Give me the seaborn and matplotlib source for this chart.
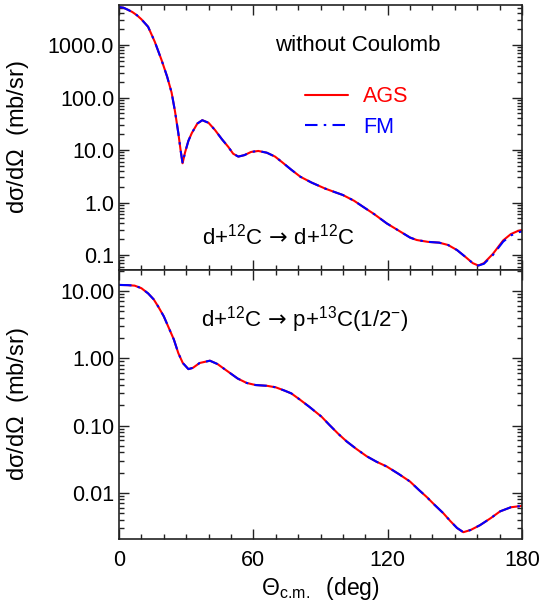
import numpy as np
import pandas as pd
import matplotlib
matplotlib.use("Agg")
import matplotlib.pyplot as plt
import seaborn as sns
from matplotlib.ticker import FixedLocator, FuncFormatter, LogLocator, MultipleLocator, NullFormatter

# ---------------- data ----------------
top_theta = [0, 2, 4, 6, 8, 10, 13, 16, 19, 21.5, 23.5, 25, 26.5, 27.5, 28.4, 29.5, 31, 32.5, 35,
             37.2, 40, 42.9, 46, 48.8, 51, 53.3, 56, 59, 62.2, 66, 69.7, 73, 77, 81, 86,
             92, 96, 100, 105, 109, 114, 119.6, 125, 130, 133, 138, 143, 147, 151, 155,
             158, 160.5, 163, 167, 171.6, 175, 178, 180]
top_ags = [5300, 5150, 4700, 4250, 3700, 3100, 2230, 1150, 520, 250, 124, 55, 21, 10, 5.6, 9, 15, 21, 32,
           37, 33, 24, 16, 11.5, 8.5, 7.5, 8, 9.2, 9.6, 8.9, 7.5, 5.8, 4.2, 3.1, 2.4,
           1.85, 1.6, 1.39, 1.08, 0.83, 0.6, 0.40, 0.29, 0.215, 0.193, 0.178, 0.172, 0.155,
           0.124, 0.09, 0.07, 0.063, 0.07, 0.105, 0.19, 0.25, 0.285, 0.30]
top_fm = [5300, 5150, 4700, 4250, 3700, 3100, 2230, 1150, 520, 250, 124, 55, 21, 10, 5.6, 9, 15, 21, 32,
          37, 33, 24, 16, 11.5, 8.5, 7.5, 8, 9.2, 9.6, 8.9, 7.5, 5.8, 4.2, 3.1, 2.4,
          1.85, 1.6, 1.39, 1.08, 0.83, 0.6, 0.40, 0.29, 0.215, 0.193, 0.178, 0.172, 0.155,
          0.124, 0.09, 0.07, 0.063, 0.068, 0.10, 0.18, 0.235, 0.27, 0.28]

bot_theta = [0, 4, 7, 10, 13, 15.5, 17.6, 20, 22, 24.5, 26.5, 28.5, 31, 33, 36, 40.6, 44,
             48.8, 53, 57, 61, 66, 70, 74, 77, 81, 85, 90.5, 94, 98, 101.7, 106, 110.6,
             115, 119.6, 125, 130, 134, 137.4, 141, 144.8, 148, 151, 153.8, 157, 161.2,
             166, 170.2, 175, 180]
bot_ags = [12.3, 12.2, 12.0, 11, 9.2, 7.5, 5.8, 4.2, 2.95, 1.9, 1.19, 0.85, 0.69, 0.72,
           0.85, 0.92, 0.82, 0.63, 0.50, 0.43, 0.40, 0.39, 0.37, 0.33, 0.30, 0.24, 0.19,
           0.135, 0.102, 0.075, 0.058, 0.045, 0.035, 0.029, 0.0246, 0.019, 0.0147, 0.011,
           0.0087, 0.0066, 0.0050, 0.0038, 0.0030, 0.0026, 0.0028, 0.0033, 0.0042, 0.0053,
           0.0061, 0.0064]
bot_fm = list(bot_ags)

x_ticks = [0, 60, 120, 180]
top_yticks = [0.1, 1.0, 10.0, 100.0, 1000.0]
bot_yticks = [0.01, 0.10, 1.00, 10.00]

# ---------------- style ----------------
sns.set_style("ticks")
plt.rcParams["font.family"] = ["Liberation Sans", "DejaVu Sans"]
plt.rcParams["mathtext.fontset"] = "custom"
plt.rcParams["mathtext.rm"] = "Liberation Sans"
plt.rcParams["mathtext.it"] = "Liberation Sans:italic"
plt.rcParams["mathtext.sf"] = "DejaVu Sans"
plt.rcParams["mathtext.fallback"] = "stixsans"
for k in ("text.color", "axes.labelcolor", "xtick.color", "ytick.color"):
    plt.rcParams[k] = "black"
FS = 15.5

fig = plt.figure(figsize=(5.47, 6.10), dpi=100)
L, R = 119 / 547, 522 / 547
ax1 = fig.add_axes([L, 1 - 270 / 610, R - L, 265 / 610])
ax2 = fig.add_axes([L, 1 - 539 / 610, R - L, 269 / 610])

def draw(ax, th, ags, fm):
    df = pd.DataFrame({"theta": th + th, "val": ags + fm,
                       "model": ["AGS"] * len(th) + ["FM"] * len(th)})
    sns.lineplot(data=df[df.model == "AGS"], x="theta", y="val", ax=ax, color="#ff0000",
                 lw=1.5, label="AGS", estimator=None, sort=False)
    sns.lineplot(data=df[df.model == "FM"], x="theta", y="val", ax=ax, color="#0000ff",
                 lw=1.5, label="FM", estimator=None, sort=False, dashes=False)
    ax.lines[-1].set_linestyle((0, (6, 3, 1.2, 3)))

draw(ax1, top_theta, top_ags, top_fm)
draw(ax2, bot_theta, bot_ags, bot_fm)

for ax in (ax1, ax2):
    ax.set_yscale("log")
    ax.set_xlim(0, 180)
    ax.xaxis.set_major_locator(FixedLocator(x_ticks))
    ax.xaxis.set_minor_locator(MultipleLocator(10))
    ax.yaxis.set_minor_locator(LogLocator(base=10, subs=np.arange(2, 10)))
    ax.yaxis.set_minor_formatter(NullFormatter())
    ax.tick_params(which="both", direction="in", top=True, right=True, labelsize=FS,
                   width=1.0, color="#222222", labelcolor="black")
    ax.tick_params(which="major", length=7)
    ax.tick_params(which="minor", length=3.5)
    for s in ax.spines.values():
        s.set_linewidth(1.2)
        s.set_color("#222222")
    ax.set_xlabel("")

ax1.set_ylim(0.0518, 5800)
ax2.set_ylim(0.00206, 20.5)
ax1.yaxis.set_major_locator(FixedLocator(top_yticks))
ax1.yaxis.set_major_formatter(FuncFormatter(lambda v, p: f"{v:.1f}"))
ax2.yaxis.set_major_locator(FixedLocator(bot_yticks))
ax2.yaxis.set_major_formatter(FuncFormatter(lambda v, p: f"{v:.2f}"))
ax1.tick_params(labelbottom=False)
ax2.tick_params(axis="x", pad=8)

ylab = r"d$\mathrm{\sigma}$/d$\mathrm{\Omega}$  (mb/sr)"
for ax in (ax1, ax2):
    ax.set_ylabel(ylab, fontsize=17, color="black")
    ax.yaxis.set_label_coords(-0.218, 0.5)
ax2.set_xlabel(r"$\mathrm{\Theta}_{\mathrm{c.\!m.}}$  (deg)", fontsize=16.5, labelpad=3,
               color="black")

# legend
leg = ax1.legend(loc="center left", bbox_to_anchor=(0.4615, 0.596), frameon=False,
                 fontsize=FS, handlelength=2.0, handletextpad=0.7, labelspacing=0.45,
                 borderpad=0, borderaxespad=0, labelcolor="linecolor")
ax2.get_legend().remove()

arrow = r"$\,\mathsf{\rightarrow}\,$"
ax1.text(0.395, 0.128, "d+$^{12}$C" + arrow + "d+$^{12}$C", transform=ax1.transAxes,
         fontsize=16, ha="center", va="center", color="black")
ax2.text(0.4615, 0.814, "d+$^{12}$C" + arrow + r"p+$^{13}$C(1/2$^{\mathrm{-}}$)",
         transform=ax2.transAxes, fontsize=16, ha="center", va="center", color="black")
ax1.text(0.593, 0.849, "without Coulomb", transform=ax1.transAxes, fontsize=16,
         ha="center", va="center", color="black")

fig.savefig("out.png", dpi=100)
